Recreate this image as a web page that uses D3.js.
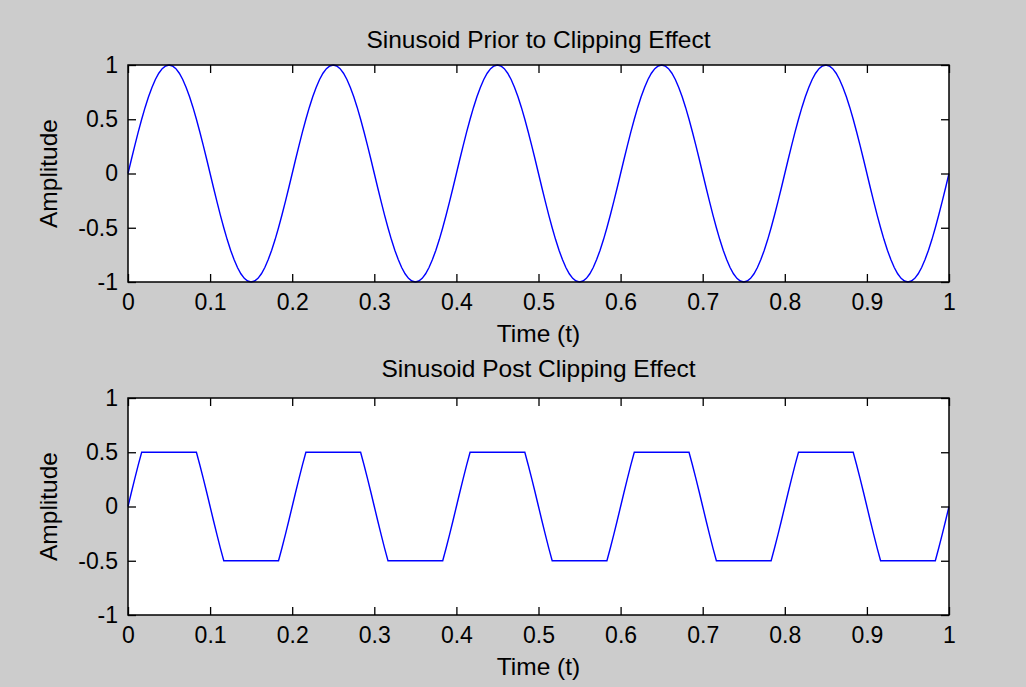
<!DOCTYPE html>
<html>
<head>
<meta charset="utf-8">
<script src="https://cdn.jsdelivr.net/npm/d3@7"></script>
<style>
  html, body { margin: 0; padding: 0; background: #cccccc; }
  svg { display: block; }
  text { font-family: "Liberation Sans", Arial, sans-serif; fill: #000; }
</style>
</head>
<body>
<svg id="chart" width="1026" height="687"></svg>
<script>
// ---- data (5 Hz sinusoid, sampled 240 times per second, t = 0..1) ----
const sampleCount = 241;
const signalOriginal = [
  0, 0.131, 0.259, 0.383, 0.5, 0.609, 0.707, 0.793, 0.866, 0.924, 0.966, 0.991, 1, 0.991, 0.966, 0.924, 0.866, 0.793, 0.707, 0.609, 0.5, 0.383, 0.259, 0.131,
  0, -0.131, -0.259, -0.383, -0.5, -0.609, -0.707, -0.793, -0.866, -0.924, -0.966, -0.991, -1, -0.991, -0.966, -0.924, -0.866, -0.793, -0.707, -0.609, -0.5, -0.383, -0.259, -0.131,
  0, 0.131, 0.259, 0.383, 0.5, 0.609, 0.707, 0.793, 0.866, 0.924, 0.966, 0.991, 1, 0.991, 0.966, 0.924, 0.866, 0.793, 0.707, 0.609, 0.5, 0.383, 0.259, 0.131,
  0, -0.131, -0.259, -0.383, -0.5, -0.609, -0.707, -0.793, -0.866, -0.924, -0.966, -0.991, -1, -0.991, -0.966, -0.924, -0.866, -0.793, -0.707, -0.609, -0.5, -0.383, -0.259, -0.131,
  0, 0.131, 0.259, 0.383, 0.5, 0.609, 0.707, 0.793, 0.866, 0.924, 0.966, 0.991, 1, 0.991, 0.966, 0.924, 0.866, 0.793, 0.707, 0.609, 0.5, 0.383, 0.259, 0.131,
  0, -0.131, -0.259, -0.383, -0.5, -0.609, -0.707, -0.793, -0.866, -0.924, -0.966, -0.991, -1, -0.991, -0.966, -0.924, -0.866, -0.793, -0.707, -0.609, -0.5, -0.383, -0.259, -0.131,
  0, 0.131, 0.259, 0.383, 0.5, 0.609, 0.707, 0.793, 0.866, 0.924, 0.966, 0.991, 1, 0.991, 0.966, 0.924, 0.866, 0.793, 0.707, 0.609, 0.5, 0.383, 0.259, 0.131,
  0, -0.131, -0.259, -0.383, -0.5, -0.609, -0.707, -0.793, -0.866, -0.924, -0.966, -0.991, -1, -0.991, -0.966, -0.924, -0.866, -0.793, -0.707, -0.609, -0.5, -0.383, -0.259, -0.131,
  0, 0.131, 0.259, 0.383, 0.5, 0.609, 0.707, 0.793, 0.866, 0.924, 0.966, 0.991, 1, 0.991, 0.966, 0.924, 0.866, 0.793, 0.707, 0.609, 0.5, 0.383, 0.259, 0.131,
  0, -0.131, -0.259, -0.383, -0.5, -0.609, -0.707, -0.793, -0.866, -0.924, -0.966, -0.991, -1, -0.991, -0.966, -0.924, -0.866, -0.793, -0.707, -0.609, -0.5, -0.383, -0.259, -0.131,
  0
];
const signalClipped = [
  0, 0.131, 0.259, 0.383, 0.5, 0.5, 0.5, 0.5, 0.5, 0.5, 0.5, 0.5, 0.5, 0.5, 0.5, 0.5, 0.5, 0.5, 0.5, 0.5, 0.5, 0.383, 0.259, 0.131,
  0, -0.131, -0.259, -0.383, -0.5, -0.5, -0.5, -0.5, -0.5, -0.5, -0.5, -0.5, -0.5, -0.5, -0.5, -0.5, -0.5, -0.5, -0.5, -0.5, -0.5, -0.383, -0.259, -0.131,
  0, 0.131, 0.259, 0.383, 0.5, 0.5, 0.5, 0.5, 0.5, 0.5, 0.5, 0.5, 0.5, 0.5, 0.5, 0.5, 0.5, 0.5, 0.5, 0.5, 0.5, 0.383, 0.259, 0.131,
  0, -0.131, -0.259, -0.383, -0.5, -0.5, -0.5, -0.5, -0.5, -0.5, -0.5, -0.5, -0.5, -0.5, -0.5, -0.5, -0.5, -0.5, -0.5, -0.5, -0.5, -0.383, -0.259, -0.131,
  0, 0.131, 0.259, 0.383, 0.5, 0.5, 0.5, 0.5, 0.5, 0.5, 0.5, 0.5, 0.5, 0.5, 0.5, 0.5, 0.5, 0.5, 0.5, 0.5, 0.5, 0.383, 0.259, 0.131,
  0, -0.131, -0.259, -0.383, -0.5, -0.5, -0.5, -0.5, -0.5, -0.5, -0.5, -0.5, -0.5, -0.5, -0.5, -0.5, -0.5, -0.5, -0.5, -0.5, -0.5, -0.383, -0.259, -0.131,
  0, 0.131, 0.259, 0.383, 0.5, 0.5, 0.5, 0.5, 0.5, 0.5, 0.5, 0.5, 0.5, 0.5, 0.5, 0.5, 0.5, 0.5, 0.5, 0.5, 0.5, 0.383, 0.259, 0.131,
  0, -0.131, -0.259, -0.383, -0.5, -0.5, -0.5, -0.5, -0.5, -0.5, -0.5, -0.5, -0.5, -0.5, -0.5, -0.5, -0.5, -0.5, -0.5, -0.5, -0.5, -0.383, -0.259, -0.131,
  0, 0.131, 0.259, 0.383, 0.5, 0.5, 0.5, 0.5, 0.5, 0.5, 0.5, 0.5, 0.5, 0.5, 0.5, 0.5, 0.5, 0.5, 0.5, 0.5, 0.5, 0.383, 0.259, 0.131,
  0, -0.131, -0.259, -0.383, -0.5, -0.5, -0.5, -0.5, -0.5, -0.5, -0.5, -0.5, -0.5, -0.5, -0.5, -0.5, -0.5, -0.5, -0.5, -0.5, -0.5, -0.383, -0.259, -0.131,
  0
];
const timeValues = d3.range(sampleCount).map(i => i / (sampleCount - 1));
const xTickValues = [0, 0.1, 0.2, 0.3, 0.4, 0.5, 0.6, 0.7, 0.8, 0.9, 1];
const yTickValues = [-1, -0.5, 0, 0.5, 1];
const titles = ["Sinusoid Prior to Clipping Effect", "Sinusoid Post Clipping Effect"];
const xLabel = "Time (t)";
const yLabel = "Amplitude";

// ---- layout ----
const svg = d3.select("#chart");
const panelLeft = 128, panelRight = 949, panelHeight = 217;
const panelTops = [65, 398];
const titleOffsets = [17, 21];
const tickLen = 8;
const fmt = v => String(v);
const FONT = '"Liberation Sans", Arial, sans-serif';

const x = d3.scaleLinear().domain([0, 1]).range([panelLeft, panelRight]);

function drawPanel(top, values, title, titleOffset) {
  const y = d3.scaleLinear().domain([-1, 1]).range([top + panelHeight, top]);
  const g = svg.append("g");

  g.append("rect")
    .attr("x", panelLeft).attr("y", top)
    .attr("width", panelRight - panelLeft).attr("height", panelHeight)
    .attr("fill", "#ffffff");

  const pts = timeValues.map((t, i) => [t, values[i]]);
  g.append("path")
    .datum(pts)
    .attr("fill", "none")
    .attr("stroke", "#0000ff")
    .attr("stroke-width", 1.4)
    .attr("d", d3.line().x(d => x(d[0])).y(d => y(d[1])));

  const xb = g.append("g").attr("transform", `translate(0,${top + panelHeight})`)
    .call(d3.axisBottom(x).tickValues(xTickValues).tickFormat(fmt).tickSizeInner(-tickLen).tickSizeOuter(0).tickPadding(12));
  const xt = g.append("g").attr("transform", `translate(0,${top})`)
    .call(d3.axisTop(x).tickValues(xTickValues).tickFormat("").tickSizeInner(-tickLen).tickSizeOuter(0));
  const yl = g.append("g").attr("transform", `translate(${panelLeft},0)`)
    .call(d3.axisLeft(y).tickValues(yTickValues).tickFormat(fmt).tickSizeInner(-tickLen).tickSizeOuter(0).tickPadding(10));
  const yr = g.append("g").attr("transform", `translate(${panelRight},0)`)
    .call(d3.axisRight(y).tickValues(yTickValues).tickFormat("").tickSizeInner(-tickLen).tickSizeOuter(0));

  [xb, xt, yl, yr].forEach(a => {
    a.selectAll(".domain").remove();
    a.selectAll("line").attr("stroke", "#000").attr("stroke-width", 1.3);
    a.selectAll("text").style("font-size", "23px").style("font-family", FONT).attr("fill", "#000");
  });
  xb.selectAll("text").attr("dy", "0.71em");

  g.append("rect")
    .attr("x", panelLeft).attr("y", top)
    .attr("width", panelRight - panelLeft).attr("height", panelHeight)
    .attr("fill", "none").attr("stroke", "#000").attr("stroke-width", 1.5);

  g.append("text")
    .attr("x", (panelLeft + panelRight) / 2).attr("y", top - titleOffset)
    .attr("text-anchor", "middle")
    .style("font-size", "24.5px")
    .text(title);

  g.append("text")
    .attr("x", (panelLeft + panelRight) / 2).attr("y", top + panelHeight + 60)
    .attr("text-anchor", "middle")
    .style("font-size", "24.5px")
    .text(xLabel);

  g.append("text")
    .attr("transform", `translate(57,${top + panelHeight / 2}) rotate(-90)`)
    .attr("text-anchor", "middle")
    .style("font-size", "24.5px")
    .text(yLabel);
}

drawPanel(panelTops[0], signalOriginal, titles[0], titleOffsets[0]);
drawPanel(panelTops[1], signalClipped, titles[1], titleOffsets[1]);
</script>
</body>
</html>
